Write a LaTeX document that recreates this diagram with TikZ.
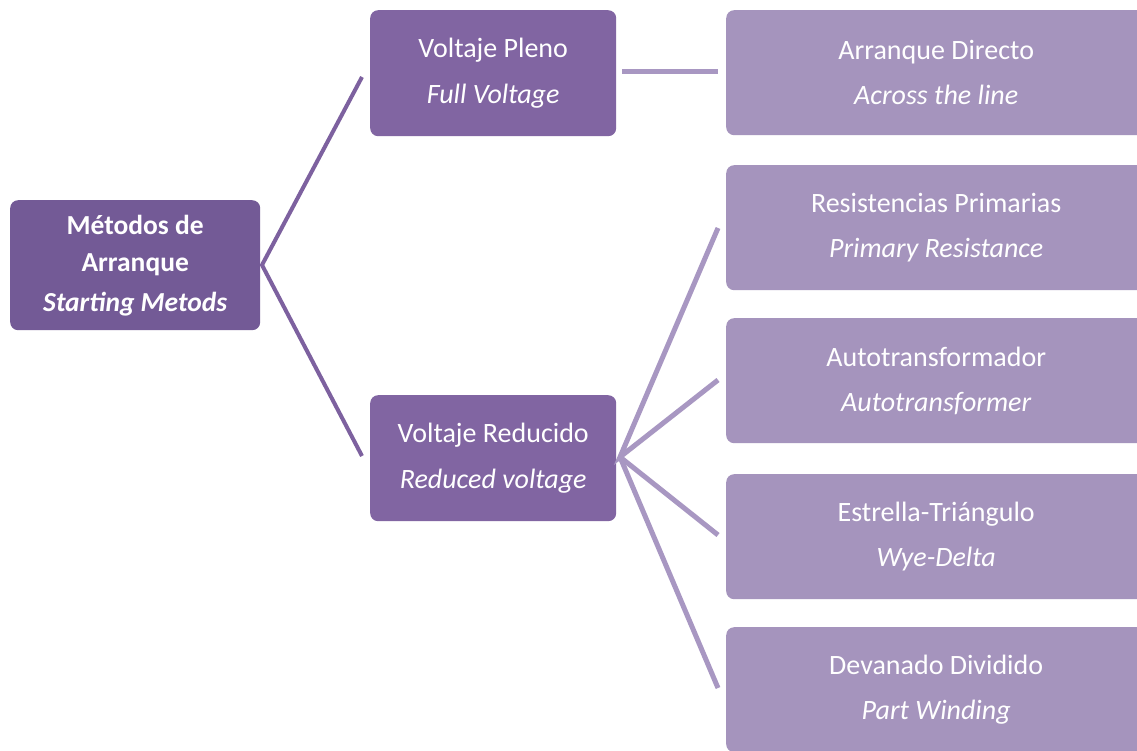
\documentclass[tikz,border=0pt]{standalone}
\usepackage{fontspec}
\setmainfont{Carlito}
\definecolor{rootc}{HTML}{735A96}
\definecolor{midc}{HTML}{8165A2}
\definecolor{leafc}{HTML}{A594BD}
\definecolor{linedark}{HTML}{7D619F}
\definecolor{linelight}{HTML}{A897C2}
\begin{document}
\begin{tikzpicture}[x=1pt,y=-1pt,
  box/.style={rounded corners=8pt, inner sep=0pt, align=center, text=white, anchor=north west},
  rootbox/.style={box, fill=rootc, minimum width=250pt, minimum height=130pt, font=\bfseries\fontsize{27.5}{37}\selectfont},
  midbox/.style={box, fill=midc, minimum width=246pt, minimum height=126pt, font=\fontsize{28}{46}\selectfont},
  leafbox/.style={box, fill=leafc, minimum width=420pt, minimum height=125pt, font=\fontsize{28}{45}\selectfont},
  darkline/.style={draw=linedark, line width=4pt},
  lightline/.style={draw=linelight, line width=5pt}]
\useasboundingbox (0,0) rectangle (1137,751);
\fill[white] (0,0) rectangle (1137,751);
\node[rootbox] (root) at (10,200) {Métodos de\\Arranque\\[3pt]\itshape Starting Metods};
\node[midbox] (vp) at (370,10) {Voltaje Pleno\\\itshape Full Voltage};
\node[midbox] (vr) at (370,395) {Voltaje Reducido\\\itshape Reduced voltage};
\node[leafbox] (ad) at (726,10) {Arranque Directo\\\itshape Across the line};
\node[leafbox] (rp) at (726,165) {Resistencias Primarias\\\itshape Primary Resistance};
\node[leafbox] (at) at (726,318) {Autotransformador\\\itshape Autotransformer};
\node[leafbox] (et) at (726,474) {Estrella-Triángulo\\\itshape Wye-Delta};
\node[leafbox] (dd) at (726,627) {Devanado Dividido\\\itshape Part Winding};
\coordinate (rs) at (262,265);
\coordinate (vpin) at (362,77);
\coordinate (vrin) at (362,456);
\coordinate (vpout) at (622,72);
\coordinate (adin) at (718,72);
\coordinate (vrout) at (620,457);
\coordinate (rpin) at (718,228);
\coordinate (atin) at (718,380);
\coordinate (etin) at (718,535);
\coordinate (ddin) at (718,688);
\draw[darkline] (vpin) -- (rs) -- (vrin);
\draw[lightline] (vpout) -- (adin);
\draw[lightline] (rpin) -- (vrout) -- (atin);
\draw[lightline] (vrout) -- (etin);
\draw[lightline] (vrout) -- (ddin);
\end{tikzpicture}
\end{document}
